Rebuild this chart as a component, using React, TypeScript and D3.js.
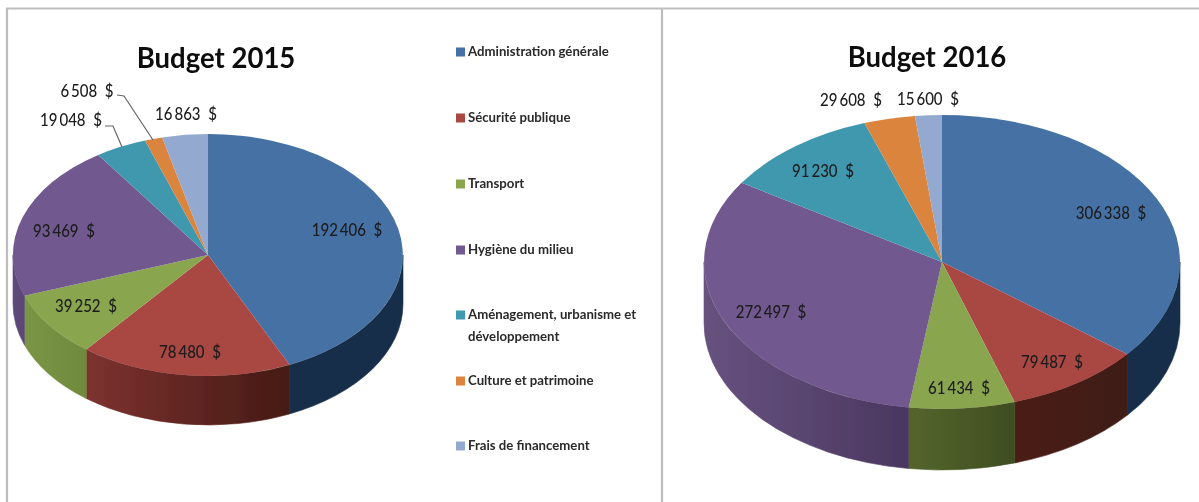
import React from "react";
import * as d3 from "d3";

const categories = [
  "Administration générale",
  "Sécurité publique",
  "Transport",
  "Hygiène du milieu",
  "Aménagement, urbanisme et|développement",
  "Culture et patrimoine",
  "Frais de financement",
];
const values2015 = [192406, 78480, 39252, 93469, 19048, 6508, 16863];
const values2016 = [306338, 79487, 61434, 272497, 91230, 29608, 15600];

const colors = ["#4571A5", "#A94643", "#89A54E", "#71588F", "#4198AF", "#DB843D", "#93A9CF"];
const wall2015 = [
  ["#182E49", "#182E49"], ["#7D322F", "#451A15"], ["#7A9545", "#6F8A3C"], ["#5F4A7C", "#5A4675"],
  ["#2F6F80", "#2F6F80"], ["#A0602C", "#A0602C"], ["#6C7C98", "#6C7C98"],
];
const wall2016 = [
  ["#182E49", "#182E49"], ["#4A1D18", "#3F1A15"], ["#55652C", "#3F4D20"], ["#67527F", "#4A3760"],
  ["#2F6F80", "#2F6F80"], ["#A0602C", "#A0602C"], ["#6C7C98", "#6C7C98"],
];

const labels2015: [number, number][] = [[347, 230], [190, 352], [86, 306], [64, 231], [71, 120], [87, 91], [186, 114]];
const labels2016: [number, number][] = [[1111, 213], [1052, 362], [959, 388], [771, 312], [823, 171], [851, 100], [928, 99]];
const leaders2015: [number, number][][] = [
  [[105, 126], [113, 126], [122, 147]],
  [[117, 95], [124, 96], [153, 140]],
];
const legendY = [52, 118, 184, 250, 315, 381, 446];

const fmt = d3.formatLocale({ decimal: ",", thousands: "\u2009", grouping: [3], currency: ["", " $"] }).format(",d");
const FONT = "Lato, 'Open Sans', sans-serif";

type PieProps = {
  id: string; title: string; titleX: number; titleY: number; values: number[]; walls: string[][];
  labels: [number, number][]; cx: number; cy: number; rx: number; ry: number; depth: number;
};

function Pie3D({ id, title, titleX, titleY, values, walls, labels, cx, cy, rx, ry, depth }: PieProps) {
  const arcs = d3.pie<number>().sort(null)(values);
  const unit = d3.arc<d3.PieArcDatum<number>>().innerRadius(0).outerRadius(1);
  const px = (a: number) => cx + rx * Math.sin(a);
  const py = (a: number) => cy - ry * Math.cos(a);
  const lo = Math.PI / 2;
  const hi = (3 * Math.PI) / 2;
  return (
    <g>
      <defs>
        {walls.map((w, i) => (
          <linearGradient key={i} id={`${id}-w${i}`} x1="0" x2="1" y1="0" y2="0">
            <stop offset="0" stopColor={w[0]} />
            <stop offset="1" stopColor={w[1]} />
          </linearGradient>
        ))}
      </defs>
      {arcs.map((d, i) => {
        const a0 = Math.max(d.startAngle, lo);
        const a1 = Math.min(d.endAngle, hi);
        if (a1 <= a0) return null;
        const large = a1 - a0 > Math.PI ? 1 : 0;
        const wall =
          `M${px(a0)},${py(a0)} A${rx},${ry} 0 ${large} 1 ${px(a1)},${py(a1)} ` +
          `L${px(a1)},${py(a1) + depth} A${rx},${ry} 0 ${large} 0 ${px(a0)},${py(a0) + depth} Z`;
        return <path key={i} d={wall} fill={`url(#${id}-w${i})`} stroke={`url(#${id}-w${i})`} strokeWidth={0.6} />;
      })}
      <g transform={`translate(${cx},${cy}) scale(${rx},${ry})`}>
        {arcs.map((d, i) => (
          <path key={i} d={unit(d) as string} fill={colors[i]} />
        ))}
      </g>
      <text transform={`translate(${titleX},${titleY}) scale(0.95,1)`} textAnchor="middle" fontFamily={FONT} fontWeight={700} fontSize={29} fill="#0c0c0c">
        {title}
      </text>
      {values.map((v, i) => (
        <text key={i} transform={`translate(${labels[i][0]},${labels[i][1] + 5.5}) scale(0.94,1.05)`} textAnchor="middle" fontFamily={FONT} fontWeight={500} fontSize={16} fill="#1c1c1c">
          {`${fmt(v)}\u00A0\u00A0$`}
        </text>
      ))}
    </g>
  );
}

export default function App() {
  const line = d3.line();
  return (
    <svg width={1199} height={502} style={{ position: "absolute", left: 0, top: 0, background: "#fff" }}>
      <defs>
        <filter id="soft" x="-2%" y="-2%" width="104%" height="104%">
          <feGaussianBlur stdDeviation="0.75" />
        </filter>
      </defs>
      <g filter="url(#soft)">
        <rect x={0} y={0} width={1199} height={502} fill="#fff" />
        <path d="M7,502 V8.5 H1199 M662,8.5 V502" fill="none" stroke="#bdbdbd" strokeWidth={2.2} />
        <Pie3D id="a" title="Budget 2015" titleX={216} titleY={68} values={values2015} walls={wall2015}
          labels={labels2015} cx={208} cy={255} rx={195} ry={121} depth={49} />
        <Pie3D id="b" title="Budget 2016" titleX={927} titleY={67} values={values2016} walls={wall2016}
          labels={labels2016} cx={942} cy={262} rx={238} ry={147} depth={61} />
        {leaders2015.map((pts, i) => (
          <path key={i} d={line(pts) as string} fill="none" stroke="#666" strokeWidth={1.2} />
        ))}
        {categories.map((c, i) => (
          <g key={i}>
            <rect x={456} y={legendY[i] - 4.5} width={9} height={9} fill={colors[i]} />
            {c.split("|").map((t, j) => (
              <text key={j} x={468} y={legendY[i] + 4 + j * 22} fontFamily={FONT} fontWeight={700} fontSize={13.2} fill="#2a2a2a">
                {t}
              </text>
            ))}
          </g>
        ))}
      </g>
    </svg>
  );
}
